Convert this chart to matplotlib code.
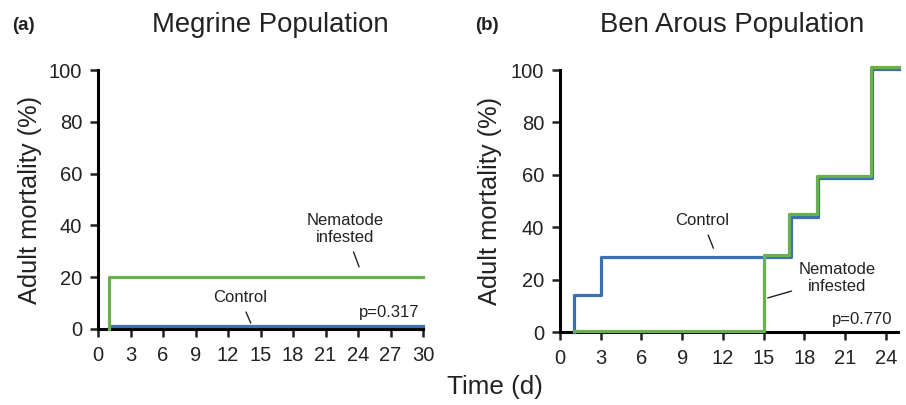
import matplotlib
matplotlib.use("Agg")
import matplotlib.pyplot as plt

plt.rcParams["font.family"] = ["Liberation Sans", "DejaVu Sans"]

BLUE = "#3a70b4"
GREEN = "#6ab04c"
INK = "#222222"

# ---------------------------------------------------------------------------
# Data - step curves, value holds until next time
# ---------------------------------------------------------------------------

# (a) Megrine
meg_ctrl_t = [1.1, 30]
meg_ctrl_y = [1, 1]
meg_nema_t = [1, 1, 30]
meg_nema_y = [0, 20, 20]

# (b) Ben Arous
ben_ctrl_t = [1, 1, 3, 17, 19, 23, 25]
ben_ctrl_y = [0, 14, 28.6, 44, 58.6, 100.5, 100.5]
ben_nema_t = [1, 15, 16.9, 18.9, 22.9, 25]
ben_nema_y = [0.5, 29.5, 45, 59.5, 101.3, 101.3]

meg_xticks = list(range(0, 31, 3))
ben_xticks = list(range(0, 25, 3))
yticks = [0, 20, 40, 60, 80, 100]

fig = plt.figure(figsize=(9.06, 4.05), dpi=100)
ax1 = fig.add_axes([98 / 906, 1 - 329 / 405, 325 / 906, 259 / 405])
ax2 = fig.add_axes([560 / 906, 1 - 332 / 405, 338 / 906, 262 / 405])


def style(ax, xmax, xticks):
    ax.set_ylim(0, 100)
    ax.set_xlim(0, xmax)
    ax.set_yticks(yticks)
    ax.set_xticks(xticks)
    ax.spines[["top", "right"]].set_visible(False)
    ax.spines[["left", "bottom"]].set_linewidth(2.2)
    ax.tick_params(width=1.8, length=5.5, labelsize=14.5, colors=INK)
    ax.tick_params(axis="x", pad=7)
    ax.tick_params(axis="y", pad=6)
    ax.set_ylabel("Adult mortality (%)", fontsize=18.3, color=INK)
    ax.yaxis.set_label_coords(-0.172, 0.5)


style(ax1, 30, meg_xticks)
style(ax2, 24.9, ben_xticks)

ax1.step(meg_ctrl_t, meg_ctrl_y, where="post", color=BLUE, lw=2.3, clip_on=False, zorder=3)
ax1.step(meg_nema_t, meg_nema_y, where="post", color=GREEN, lw=2.3, clip_on=False, zorder=3)

ax2.step(ben_ctrl_t, ben_ctrl_y, where="post", color=BLUE, lw=2.3, clip_on=False, zorder=3)
ax2.step(ben_nema_t, ben_nema_y, where="post", color=GREEN, lw=2.3, clip_on=False, zorder=4)

# annotations
line = dict(arrowstyle="-", color=INK, lw=1, shrinkA=3, shrinkB=0)
ax1.annotate("Nematode\ninfested", xy=(24.1, 24), xytext=(22.8, 38.6),
             ha="center", va="center", fontsize=12, color=INK, arrowprops=line)
ax1.annotate("Control", xy=(14.1, 2.3), xytext=(13.1, 12),
             ha="center", va="center", fontsize=12, color=INK, arrowprops=line)
ax1.text(29.7, 6.2, "p=0.317", ha="right", va="center", fontsize=12, color=INK)

ax2.annotate("Control", xy=(11.3, 32), xytext=(10.5, 42.4),
             ha="center", va="center", fontsize=12, color=INK, arrowprops=line)
ax2.annotate("Nematode\ninfested", xy=(15.3, 13), xytext=(20.4, 20.6),
             ha="center", va="center", fontsize=12, color=INK, arrowprops=line)
ax2.text(24.5, 4.6, "p=0.770", ha="right", va="center", fontsize=12, color=INK)

# titles and panel letters
fig.text(270 / 906, 1 - 25 / 405, "Megrine Population", ha="center", va="center",
         fontsize=19.8, color=INK)
fig.text(732 / 906, 1 - 25 / 405, "Ben Arous Population", ha="center", va="center",
         fontsize=19.8, color=INK)
fig.text(12 / 906, 1 - 26 / 405, "(a)", ha="left", va="center", fontsize=13.5,
         fontweight="bold", color=INK)
fig.text(475 / 906, 1 - 26 / 405, "(b)", ha="left", va="center", fontsize=13.5,
         fontweight="bold", color=INK)
fig.text(495 / 906, 1 - 387 / 405, "Time (d)", ha="center", va="center",
         fontsize=18.7, color=INK)

fig.savefig("out.png", dpi=100)
